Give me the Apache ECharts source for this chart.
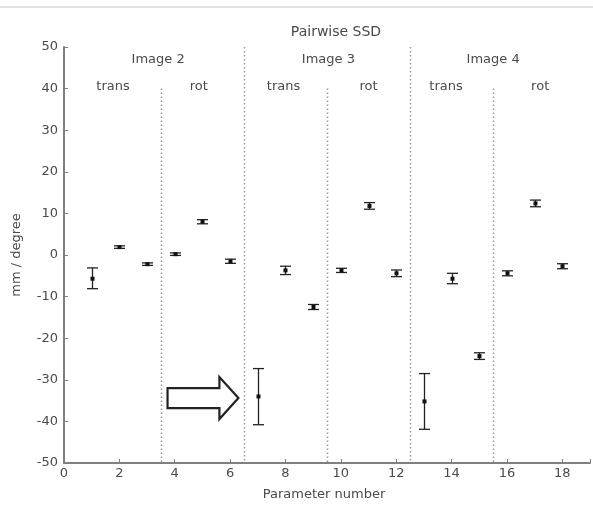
<!DOCTYPE html>
<html>
<head>
<meta charset="utf-8">
<script src="https://cdn.jsdelivr.net/npm/echarts@6/dist/echarts.min.js"></script>
<style>
  html, body { margin: 0; padding: 0; background: #fff; }
  #main { width: 593px; height: 506px; }
</style>
</head>
<body>
<div id="main"></div>
<script>
// parameter number, mean, lower, upper
const params = [1, 2, 3, 4, 5, 6, 7, 8, 9, 10, 11, 12, 13, 14, 15, 16, 17, 18];
const means  = [-5.7, 1.9, -2.2, 0.2, 8.0, -1.5, -34.0, -3.7, -12.5, -3.7, 11.8, -4.4, -35.2, -5.7, -24.3, -4.4, 12.4, -2.7];
const lowers = [-8.1, 1.6, -2.5, -0.1, 7.5, -2.0, -40.8, -4.7, -13.1, -4.2, 11.0, -5.2, -41.9, -6.9, -25.1, -5.0, 11.6, -3.3];
const uppers = [-3.1, 2.2, -1.9, 0.5, 8.5, -1.0, -27.3, -2.7, -11.9, -3.2, 12.6, -3.6, -28.5, -4.4, -23.5, -3.8, 13.2, -2.1];

// dotted dividers: x, top, bottom
const dividers = [[3.5, 40, -50], [6.5, 50, -50], [9.5, 40, -50], [12.5, 50, -50], [15.5, 40, -50]];

// group labels: x, y, text
const groupLabels = [
  [3.4, 46.9, 'Image 2'], [9.55, 46.9, 'Image 3'], [15.5, 46.9, 'Image 4'],
  [1.77, 40.4, 'trans'], [4.87, 40.4, 'rot'],
  [7.93, 40.4, 'trans'], [11.0, 40.4, 'rot'],
  [13.8, 40.4, 'trans'], [17.2, 40.4, 'rot']
];

// arrow: tail x, tip x, y
const arrows = [[3.74, 6.3, -34.4]];

const fontFamily = 'DejaVu Sans, Verdana, sans-serif';
const textColor = '#4a4a4a';

const chart = echarts.init(document.getElementById('main'));

chart.setOption({
  animation: false,
  // faint frame edge along the top of the picture
  graphic: [{
    type: 'line',
    shape: { x1: 0, y1: 7, x2: 593, y2: 7 },
    style: { stroke: '#e2e2e2', lineWidth: 2 },
    silent: true
  }],
  title: {
    text: 'Pairwise SSD',
    left: 331,
    top: 20,
    textAlign: 'center',
    textStyle: { fontSize: 14, fontWeight: 'normal', color: textColor, fontFamily: fontFamily }
  },
  grid: { left: 64, top: 47, width: 534, height: 418 },
  xAxis: {
    type: 'value',
    min: 0, max: 19, interval: 2,
    name: 'Parameter number',
    nameLocation: 'middle',
    nameGap: 25,
    nameTextStyle: { fontSize: 13, color: textColor, fontFamily: fontFamily, padding: [0, 0, 0, -6] },
    axisLine: { onZero: false, lineStyle: { color: '#808080', width: 2 } },
    axisTick: { inside: true, length: 4, lineStyle: { color: '#808080' } },
    axisLabel: {
      fontSize: 13, color: textColor, fontFamily: fontFamily, margin: 4,
      formatter: v => (v % 2 === 0 ? String(v) : '')
    },
    splitLine: { show: false }
  },
  yAxis: {
    type: 'value',
    min: -50, max: 50, interval: 10,
    name: 'mm / degree',
    nameLocation: 'middle',
    nameGap: 41,
    nameTextStyle: { fontSize: 13, color: textColor, fontFamily: fontFamily },
    axisLine: { lineStyle: { color: '#808080', width: 2 } },
    axisTick: { inside: true, length: 4, lineStyle: { color: '#808080' } },
    axisLabel: { fontSize: 13, color: textColor, fontFamily: fontFamily, margin: 6 },
    splitLine: { show: false }
  },
  series: [
    {
      type: 'custom',
      name: 'dividers',
      data: dividers,
      renderItem: (params, api) => {
        const a = api.coord([api.value(0), api.value(1)]);
        const b = api.coord([api.value(0), api.value(2)]);
        return {
          type: 'line',
          shape: { x1: Math.round(a[0]) + 0.5, y1: a[1], x2: Math.round(b[0]) + 0.5, y2: b[1] },
          style: { stroke: '#999', lineWidth: 1.5, lineDash: [1.5, 2.5] }
        };
      },
      silent: true,
      z: 1
    },
    {
      type: 'custom',
      name: 'labels',
      data: groupLabels,
      renderItem: (params, api) => {
        const p = api.coord([api.value(0), api.value(1)]);
        return {
          type: 'text',
          x: p[0], y: p[1],
          style: {
            text: groupLabels[params.dataIndex][2],
            fill: textColor, fontSize: 13, fontFamily: fontFamily,
            align: 'center', verticalAlign: 'middle'
          }
        };
      },
      silent: true
    },
    {
      type: 'custom',
      name: 'errorbars',
      data: params.map((p, i) => [p, means[i], lowers[i], uppers[i]]),
      renderItem: (params, api) => {
        const x = api.value(0);
        const m = api.coord([x, api.value(1)]);
        const lo = api.coord([x, api.value(2)]);
        const hi = api.coord([x, api.value(3)]);
        const cx = Math.round(m[0]) + 0.5;
        const w = 5.5;
        const st = { stroke: '#222', lineWidth: 1.3 };
        return {
          type: 'group',
          children: [
            { type: 'line', shape: { x1: cx, y1: lo[1], x2: cx, y2: hi[1] }, style: st },
            { type: 'line', shape: { x1: cx - w, y1: lo[1], x2: cx + w, y2: lo[1] }, style: st },
            { type: 'line', shape: { x1: cx - w, y1: hi[1], x2: cx + w, y2: hi[1] }, style: st },
            { type: 'rect', shape: { x: cx - 2, y: m[1] - 2, width: 4, height: 4 }, style: { fill: '#111' } }
          ]
        };
      },
      z: 3
    },
    {
      type: 'custom',
      name: 'arrow',
      data: arrows,
      renderItem: (params, api) => {
        const t = api.coord([api.value(0), api.value(2)]);
        const h = api.coord([api.value(1), api.value(2)]);
        const y = h[1];
        const body = 10, head = 21, headLen = 19;
        const hb = h[0] - headLen;
        return {
          type: 'polygon',
          shape: {
            points: [
              [t[0], y - body], [hb, y - body], [hb, y - head], [h[0], y],
              [hb, y + head], [hb, y + body], [t[0], y + body]
            ]
          },
          style: { fill: '#fff', stroke: '#222', lineWidth: 2.2, lineJoin: 'miter' }
        };
      },
      silent: true,
      z: 2
    }
  ]
});
</script>
</body>
</html>
